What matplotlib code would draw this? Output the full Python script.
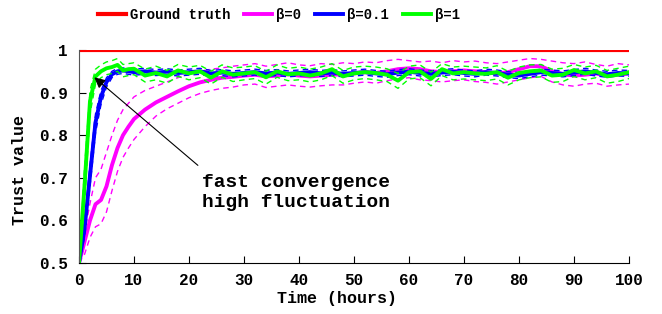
import matplotlib
matplotlib.use("Agg")
import matplotlib.pyplot as plt

# time grid (hours)
t = [0, 1, 2, 3, 4, 5, 6, 7, 8, 9, 10,
     12, 14, 16, 18, 20, 22, 24, 26, 28,
     30, 32, 34, 36, 38, 40, 42, 44, 46,
     48, 50, 52, 54, 56, 58, 60, 62, 64,
     66, 68, 70, 72, 74, 76, 78, 80, 82,
     84, 86, 88, 90, 92, 94, 96, 98, 100]

ground_truth = 1.0

b0_mean = [0.500, 0.550, 0.600, 0.638, 0.648, 0.680, 0.730, 0.770, 0.800, 0.820, 0.838,
           0.860, 0.877, 0.890, 0.903, 0.915, 0.924, 0.930, 0.935, 0.937,
           0.940, 0.942, 0.938, 0.940, 0.943, 0.940, 0.938, 0.940, 0.942,
           0.943, 0.945, 0.948, 0.946, 0.950, 0.955, 0.957, 0.955, 0.950,
           0.948, 0.950, 0.952, 0.950, 0.948, 0.945, 0.948, 0.955, 0.962,
           0.962, 0.950, 0.943, 0.940, 0.942, 0.945, 0.940, 0.942, 0.945]
b0_upper = [0.500, 0.570, 0.640, 0.700, 0.720, 0.760, 0.800, 0.835, 0.860, 0.875, 0.890,
            0.905, 0.915, 0.925, 0.935, 0.945, 0.950, 0.955, 0.958, 0.962,
            0.965, 0.968, 0.962, 0.966, 0.970, 0.965, 0.963, 0.968, 0.966,
            0.970, 0.968, 0.972, 0.970, 0.975, 0.978, 0.975, 0.972, 0.974,
            0.970, 0.975, 0.972, 0.974, 0.970, 0.968, 0.972, 0.976, 0.980,
            0.978, 0.974, 0.970, 0.968, 0.972, 0.966, 0.962, 0.968, 0.965]
b0_lower = [0.500, 0.520, 0.560, 0.585, 0.592, 0.620, 0.670, 0.715, 0.748, 0.770, 0.790,
            0.820, 0.845, 0.862, 0.875, 0.888, 0.898, 0.905, 0.910, 0.913,
            0.918, 0.920, 0.912, 0.915, 0.918, 0.915, 0.913, 0.916, 0.918,
            0.918, 0.922, 0.925, 0.922, 0.928, 0.932, 0.935, 0.930, 0.928,
            0.925, 0.928, 0.930, 0.926, 0.924, 0.920, 0.925, 0.930, 0.935,
            0.938, 0.925, 0.918, 0.915, 0.920, 0.922, 0.915, 0.918, 0.920]

b01_mean = [0.500, 0.580, 0.705, 0.830, 0.890, 0.925, 0.943, 0.950, 0.952, 0.950, 0.948,
            0.950, 0.947, 0.949, 0.946, 0.948, 0.950, 0.945, 0.947, 0.944,
            0.946, 0.948, 0.945, 0.947, 0.944, 0.946, 0.948, 0.945, 0.947,
            0.944, 0.946, 0.948, 0.945, 0.943, 0.947, 0.949, 0.946, 0.944,
            0.947, 0.949, 0.946, 0.944, 0.948, 0.946, 0.942, 0.940, 0.944,
            0.948, 0.946, 0.944, 0.947, 0.950, 0.946, 0.943, 0.946, 0.945]
b01_upper = [0.500, 0.600, 0.730, 0.850, 0.905, 0.935, 0.950, 0.957, 0.958, 0.956, 0.955,
             0.957, 0.954, 0.956, 0.953, 0.955, 0.957, 0.952, 0.954, 0.951,
             0.953, 0.955, 0.952, 0.954, 0.951, 0.953, 0.955, 0.952, 0.954,
             0.951, 0.953, 0.955, 0.952, 0.950, 0.954, 0.956, 0.953, 0.951,
             0.954, 0.956, 0.953, 0.951, 0.955, 0.953, 0.949, 0.947, 0.951,
             0.955, 0.953, 0.951, 0.954, 0.957, 0.953, 0.950, 0.953, 0.952]
b01_lower = [0.500, 0.560, 0.680, 0.805, 0.872, 0.913, 0.935, 0.943, 0.945, 0.943, 0.941,
             0.943, 0.940, 0.942, 0.939, 0.941, 0.943, 0.938, 0.940, 0.937,
             0.939, 0.941, 0.938, 0.940, 0.937, 0.939, 0.941, 0.938, 0.940,
             0.937, 0.939, 0.941, 0.938, 0.936, 0.940, 0.942, 0.939, 0.937,
             0.940, 0.942, 0.939, 0.937, 0.941, 0.939, 0.935, 0.933, 0.937,
             0.941, 0.939, 0.937, 0.940, 0.943, 0.939, 0.936, 0.939, 0.938]

b1_mean = [0.500, 0.680, 0.880, 0.938, 0.950, 0.957, 0.960, 0.965, 0.952, 0.955, 0.956,
           0.940, 0.946, 0.938, 0.952, 0.945, 0.950, 0.935, 0.950, 0.942,
           0.945, 0.948, 0.936, 0.950, 0.943, 0.945, 0.940, 0.945, 0.955,
           0.938, 0.945, 0.948, 0.946, 0.942, 0.928, 0.948, 0.950, 0.932,
           0.955, 0.945, 0.948, 0.945, 0.944, 0.948, 0.935, 0.946, 0.950,
           0.952, 0.940, 0.942, 0.953, 0.945, 0.950, 0.938, 0.942, 0.948]
b1_upper = [0.500, 0.720, 0.905, 0.955, 0.965, 0.972, 0.975, 0.980, 0.966, 0.968, 0.970,
            0.955, 0.962, 0.952, 0.966, 0.960, 0.964, 0.950, 0.965, 0.958,
            0.960, 0.963, 0.950, 0.965, 0.957, 0.960, 0.955, 0.960, 0.968,
            0.952, 0.960, 0.962, 0.960, 0.956, 0.945, 0.962, 0.965, 0.948,
            0.968, 0.960, 0.962, 0.960, 0.958, 0.963, 0.950, 0.960, 0.965,
            0.966, 0.955, 0.957, 0.966, 0.960, 0.964, 0.952, 0.957, 0.962]
b1_lower = [0.500, 0.640, 0.850, 0.920, 0.935, 0.942, 0.945, 0.950, 0.937, 0.940, 0.942,
            0.925, 0.930, 0.922, 0.938, 0.930, 0.935, 0.920, 0.936, 0.926,
            0.930, 0.933, 0.920, 0.936, 0.928, 0.930, 0.925, 0.930, 0.940,
            0.922, 0.930, 0.933, 0.930, 0.926, 0.910, 0.932, 0.935, 0.916,
            0.940, 0.930, 0.932, 0.930, 0.928, 0.932, 0.918, 0.930, 0.935,
            0.937, 0.924, 0.926, 0.938, 0.930, 0.935, 0.922, 0.926, 0.933]

x_ticks = [0, 10, 20, 30, 40, 50, 60, 70, 80, 90, 100]
y_ticks = [0.5, 0.6, 0.7, 0.8, 0.9, 1.0]
y_tick_labels = ["0.5", "0.6", "0.7", "0.8", "0.9", "1"]

FONT = "Liberation Mono"

fig = plt.figure(figsize=(6.62, 3.14), dpi=100)
ax = fig.add_axes([79 / 662, 1 - 263 / 314, 550 / 662, 213 / 314])

red, mag, blu, grn = "#ff0000", "#ff00ff", "#0000ff", "#00ff00"
dash = (0, (4, 3))

ax.plot(t, b0_upper, color=mag, lw=1.0, ls=dash)
ax.plot(t, b0_lower, color=mag, lw=1.0, ls=dash)
l0, = ax.plot(t, b0_mean, color=mag, lw=2.8, label="β=0")
ax.plot(t, b01_upper, color=blu, lw=1.0, ls=dash)
ax.plot(t, b01_lower, color=blu, lw=1.0, ls=dash)
l01, = ax.plot(t, b01_mean, color=blu, lw=2.8, label="β=0.1")
ax.plot(t, b1_upper, color=grn, lw=1.0, ls=dash)
ax.plot(t, b1_lower, color=grn, lw=1.0, ls=dash)
l1, = ax.plot(t, b1_mean, color=grn, lw=2.8, label="β=1")
lg, = ax.plot(t, [ground_truth] * len(t), color=red, lw=3.0, label="Ground truth")

ax.set_xlim(0, 100)
ax.set_ylim(0.5, 1.0)
ax.set_xticks(x_ticks)
ax.set_yticks(y_ticks)
ax.set_yticklabels(y_tick_labels)
for s in ["top", "right"]:
    ax.spines[s].set_visible(False)
ax.spines["left"].set_color("#555555")
ax.tick_params(direction="in", length=5, width=0.8)
ax.tick_params(axis="x", pad=7)
ax.tick_params(axis="y", pad=8)
for lab in ax.get_xticklabels() + ax.get_yticklabels():
    lab.set_fontfamily(FONT)
    lab.set_fontweight("bold")
    lab.set_fontsize(11.5)

ax.set_xlabel("Time (hours)", fontfamily=FONT, fontweight="bold", fontsize=12)
ax.xaxis.set_label_coords((337 - 79) / 550, (263 - 291) / 213)
ax.set_ylabel("Trust value", fontfamily=FONT, fontweight="bold", fontsize=12)
ax.yaxis.set_label_coords((27 - 79) / 550, (263 - 170) / 213)

ax.annotate("", xy=(2.4, 0.94), xytext=(22, 0.725),
            arrowprops=dict(arrowstyle="-|>", color="black", lw=0.8, mutation_scale=16))
ax.text(22.3, 0.666, "fast convergence\nhigh fluctuation", ha="left", va="center",
        fontfamily=FONT, fontsize=14, fontweight="bold", linespacing=1.25)

leg = fig.legend(handles=[lg, l0, l01, l1], loc="center", bbox_to_anchor=(279 / 662, 1 - 15 / 314),
                 ncol=4, frameon=False, handlelength=2.0, columnspacing=1.0, handletextpad=0.3,
                 prop={"family": FONT, "weight": "bold", "size": 10})

fig.savefig("out.png", dpi=100)
